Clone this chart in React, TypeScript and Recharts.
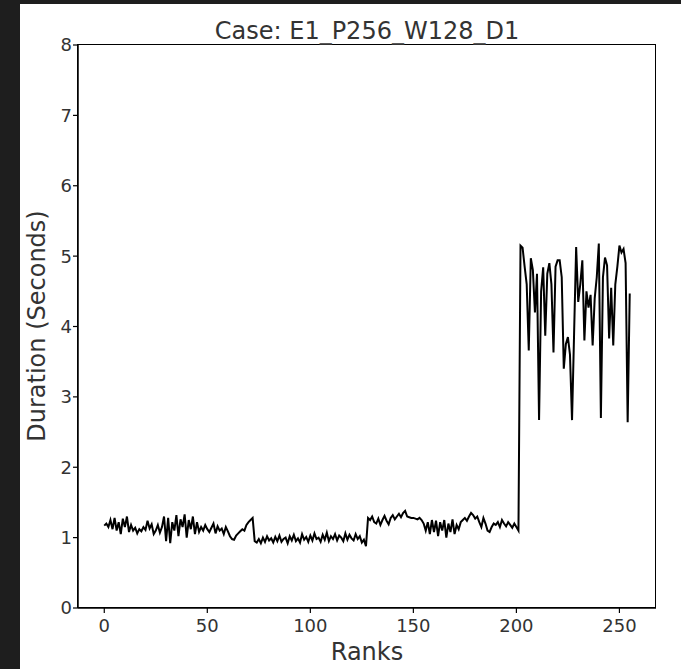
import React from 'react';
import { LineChart, Line, XAxis, YAxis } from 'recharts';

const durations: number[] = [
  1.17, 1.20, 1.15, 1.25, 1.12, 1.28, 1.10, 1.22, 1.05, 1.27,
  1.15, 1.30, 1.08, 1.18, 1.10, 1.14, 1.06, 1.12, 1.09, 1.15,
  1.11, 1.24, 1.13, 1.19, 1.05, 1.10, 1.18, 1.07, 1.15, 1.30,
  0.95, 1.28, 0.92, 1.22, 1.10, 1.32, 1.02, 1.26, 1.15, 1.33,
  1.00, 1.25, 1.12, 1.30, 1.05, 1.22, 1.08, 1.15, 1.10, 1.18,
  1.12, 1.08, 1.14, 1.20, 1.06, 1.16, 1.10, 1.13, 1.05, 1.15,
  1.09, 1.02, 0.98, 0.97, 1.03, 1.06, 1.09, 1.12, 1.10, 1.18,
  1.22, 1.25, 1.28, 0.95, 0.93, 0.98, 0.92, 1.00, 0.94, 1.02,
  0.96, 0.99, 0.93, 1.01, 0.95, 1.03, 0.94, 0.98, 1.00, 0.92,
  1.02, 0.96, 1.04, 0.95, 0.99, 0.93, 1.05, 0.97, 1.01, 0.94,
  1.03, 0.96, 1.06, 0.98, 1.00, 0.94, 1.04, 0.97, 1.07, 0.95,
  1.02, 0.98, 1.05, 0.96, 1.03, 1.00, 0.95, 1.06, 0.97, 1.04,
  0.99, 0.96, 1.05, 0.98, 1.02, 0.93, 0.97, 0.88, 1.28, 1.25,
  1.30, 1.22, 1.20, 1.27, 1.18, 1.25, 1.31, 1.24, 1.19, 1.28,
  1.32, 1.26, 1.30, 1.34, 1.29, 1.35, 1.38, 1.30, 1.29, 1.28,
  1.28, 1.27, 1.26, 1.28, 1.25, 1.20, 1.10, 1.22, 1.05, 1.25,
  1.08, 1.24, 1.02, 1.22, 1.10, 1.25, 1.00, 1.20, 1.08, 1.26,
  1.05, 1.18, 1.12, 1.22, 1.25, 1.28, 1.24, 1.30, 1.35, 1.32,
  1.27, 1.30, 1.22, 1.15, 1.28, 1.20, 1.10, 1.08, 1.15, 1.20,
  1.18, 1.22, 1.15, 1.25, 1.20, 1.16, 1.22, 1.18, 1.14, 1.20,
  1.15, 1.10,
  5.15, 5.12, 4.85, 4.60, 3.66, 4.97, 4.80, 4.20, 4.75, 2.67,
  4.50, 4.84, 3.87, 4.75, 4.90, 4.60, 3.63, 4.85, 4.94, 4.94,
  4.70, 3.40, 3.75, 3.85, 3.60, 2.67, 3.90, 5.13, 4.35, 4.60,
  4.94, 3.80, 4.50, 4.27, 4.45, 3.73, 4.40, 4.70, 5.18, 2.70,
  4.70, 4.98, 4.87, 3.83, 4.55, 3.73, 4.60, 4.85, 5.15, 5.05,
  5.10, 4.90, 2.64, 4.47,
];

const xTicks = [0, 50, 100, 150, 200, 250];
const yTicks = [0, 1, 2, 3, 4, 5, 6, 7, 8];
const titleText = 'Case: E1_P256_W128_D1';
const xLabel = 'Ranks';
const yLabel = 'Duration (Seconds)';

const data = durations.map((d, i) => ({ rank: i, duration: d }));

const FONT = '"DejaVu Sans", sans-serif';
const tickStyle = { fill: '#333', fontSize: 18, fontFamily: FONT };

export default function App() {
  return (
    <div style={{ position: 'absolute', left: 0, top: 0, width: 681, height: 669, background: '#1e1e1e', overflow: 'hidden' }}>
      <div style={{ position: 'absolute', left: 20, top: 4, width: 661, height: 665, background: '#ffffff' }} />
      <div style={{ position: 'absolute', left: 0, top: 0 }}>
        <LineChart width={681} height={669} data={data} margin={{ top: 45, right: 25, bottom: 0, left: 0 }}>
          <XAxis
            dataKey="rank"
            type="number"
            domain={[-12.75, 267.75]}
            ticks={xTicks}
            allowDataOverflow
            height={61}
            tickSize={5}
            tickMargin={6}
            tick={tickStyle}
            axisLine={{ stroke: '#000', strokeWidth: 1.5 }}
            tickLine={{ stroke: '#000', strokeWidth: 1.2 }}
          />
          <YAxis
            type="number"
            domain={[0, 8]}
            ticks={yTicks}
            allowDataOverflow
            width={78}
            tickSize={5}
            tickMargin={1}
            tick={tickStyle}
            axisLine={{ stroke: '#000', strokeWidth: 1.5 }}
            tickLine={{ stroke: '#000', strokeWidth: 1.2 }}
          />
          <Line
            type="linear"
            dataKey="duration"
            stroke="#000"
            strokeWidth={2}
            dot={false}
            isAnimationActive={false}
          />
        </LineChart>
      </div>
      <div style={{ position: 'absolute', left: 77, top: 44, width: 579, height: 564, boxSizing: 'border-box', border: '1.5px solid #000', pointerEvents: 'none' }} />
      <div style={{ position: 'absolute', left: 78, width: 578, top: 18, textAlign: 'center', fontFamily: FONT, fontSize: 24, lineHeight: '26px', color: '#333' }}>
        {titleText}
      </div>
      <div style={{ position: 'absolute', left: 78, width: 578, top: 639, textAlign: 'center', fontFamily: FONT, fontSize: 24, lineHeight: '26px', color: '#333' }}>
        {xLabel}
      </div>
      <div style={{ position: 'absolute', left: 37, top: 326, width: 0, height: 0 }}>
        <div style={{ position: 'absolute', left: -160, top: -13, width: 320, textAlign: 'center', transform: 'rotate(-90deg)', fontFamily: FONT, fontSize: 24, lineHeight: '26px', color: '#333', whiteSpace: 'nowrap' }}>
          {yLabel}
        </div>
      </div>
    </div>
  );
}
